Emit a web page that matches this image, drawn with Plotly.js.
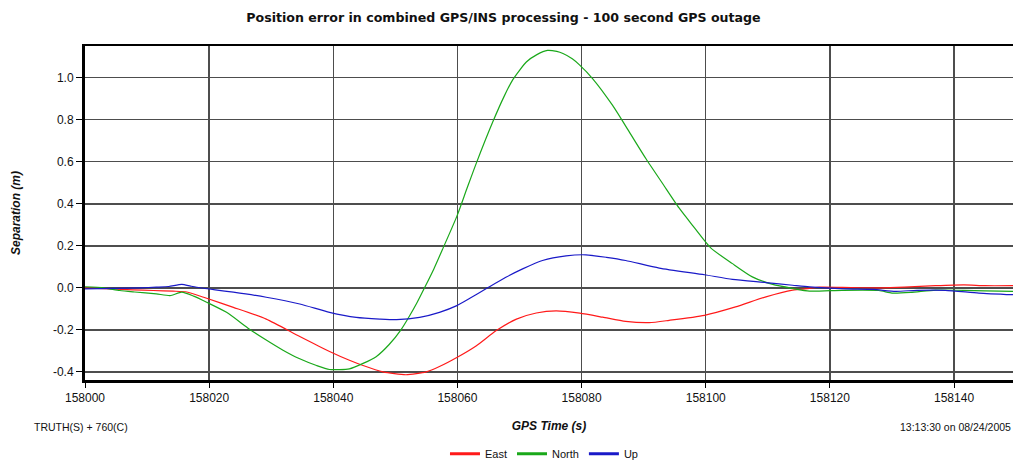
<!DOCTYPE html>
<html>
<head>
<meta charset="utf-8">
<script src="https://cdn.plot.ly/plotly-3.0.1.min.js"></script>
<style>
html,body{margin:0;padding:0;background:#fff;overflow:hidden;}
#chart{width:1013px;height:464px;}
</style>
</head>
<body>
<div id="chart"></div>
<script>
// ---- data (GPS time in seconds, separation in metres) ----
const eastT = [158000,158004,158007.7,158011,158014.2,158016.4,158019.6,158023.9,158029.2,158034.6,158039.4,158042.6,158044.8,158048,158051.7,158055,158057.1,158059.9,158063,158066.2,158069.5,158072.7,158075.9,158079.7,158083.4,158087.1,158090.9,158094.1,158099.8,158104.8,158109.7,158114,158116.7,158118.3,158122,158128,158132,158137,158141.6,158145,158149.5];
const eastV = [0,-0.005,-0.01,-0.013,-0.016,-0.02,-0.05,-0.093,-0.149,-0.232,-0.303,-0.345,-0.37,-0.4,-0.414,-0.4,-0.375,-0.332,-0.277,-0.205,-0.149,-0.12,-0.11,-0.121,-0.14,-0.16,-0.166,-0.155,-0.131,-0.091,-0.043,-0.011,-0.003,0.003,0.002,0.0,0.003,0.01,0.014,0.01,0.01];

const northT = [158000,158003,158005.6,158008,158011.5,158013.7,158015.6,158017.5,158019.6,158022.8,158026.5,158029,158031.9,158034.5,158037.3,158039.4,158042.6,158044.8,158046.9,158049,158050.9,158052.3,158053.5,158054.7,158056.2,158057.7,158059.9,158061.5,158063,158065.7,158067.5,158068.9,158071.1,158072.8,158074.5,158076,158077,158078.5,158079.7,158081.8,158085,158087.7,158090.4,158093.1,158095.7,158097.8,158100.8,158104.3,158107.5,158110.8,158114,158116.7,158122,158127.9,158130,158133,158137,158141.6,158145,158149.5];
const northV = [0.005,0.0,-0.013,-0.02,-0.029,-0.037,-0.021,-0.04,-0.069,-0.117,-0.197,-0.245,-0.297,-0.337,-0.37,-0.389,-0.386,-0.36,-0.328,-0.27,-0.2,-0.133,-0.07,0.0,0.09,0.19,0.34,0.47,0.59,0.79,0.91,0.99,1.075,1.11,1.13,1.125,1.115,1.09,1.06,0.995,0.868,0.741,0.613,0.494,0.38,0.3,0.19,0.115,0.052,0.016,-0.003,-0.016,-0.012,-0.013,-0.025,-0.022,-0.011,-0.012,-0.015,-0.017];

const upT = [158000,158005,158009,158011.5,158013.5,158015.6,158017,158018.5,158021,158023.9,158029.2,158034.6,158039.4,158043.7,158047.5,158050.2,158053.9,158057.1,158059.9,158062,158064.6,158067.8,158070.5,158073.7,158077.5,158080.7,158084,158087.1,158092.5,158099.8,158104.3,158109.7,158114,158116.7,158122.5,158127,158130.6,158134,158138.6,158144,158149.5];
const upV = [-0.005,-0.003,0.0,0.003,0.006,0.016,0.008,0.0,-0.01,-0.021,-0.045,-0.077,-0.117,-0.141,-0.149,-0.152,-0.141,-0.117,-0.085,-0.05,-0.005,0.05,0.09,0.13,0.152,0.157,0.145,0.13,0.094,0.062,0.04,0.025,0.012,0.004,-0.005,-0.008,-0.017,-0.012,-0.012,-0.025,-0.033];

const seriesNames = ["East","North","Up"];
const seriesColors = ["#ff1a1a","#1aa81a","#1a1ac8"];
const xTicks = [158000,158020,158040,158060,158080,158100,158120,158140];
const yTicks = [-0.4,-0.2,0.0,0.2,0.4,0.6,0.8,1.0];
const yTickText = ["-0.4","-0.2","0.0","0.2","0.4","0.6","0.8","1.0"];

const titleText = "Position error in combined GPS/INS processing - 100 second GPS outage";
const xTitle = "GPS Time (s)";
const yTitle = "Separation (m)";
const leftNote = "TRUTH(S) + 760(C)";
const rightNote = "13:13:30 on 08/24/2005";

const FONT = "Liberation Sans, Arial, sans-serif";

const xs = [eastT, northT, upT];
const ys = [eastV, northV, upV];
const traces = seriesNames.map((n,i)=>({
  x: xs[i], y: ys[i], name: n, type: "scatter", mode: "lines",
  legendgroup: n, showlegend: false,
  line: {color: seriesColors[i], width: 1.2, shape: "spline", smoothing: 0.6}
}));
// legend entries (thicker key lines, like the reference legend)
seriesNames.forEach((n,i)=>traces.push({
  x: [null], y: [null], name: n, type: "scatter", mode: "lines",
  legendgroup: n, showlegend: true, line: {color: seriesColors[i], width: 3}
}));

const layout = {
  width: 1013, height: 464,
  paper_bgcolor: "#ffffff", plot_bgcolor: "#ffffff",
  margin: {l: 85, r: 0, t: 46, b: 84, pad: 0},
  font: {family: FONT, size: 12, color: "#111"},
  title: {text: "<b>" + titleText + "</b>", font: {family: "DejaVu Sans, " + FONT, size: 12.6, color: "#111"},
          x: 0.497, xref: "container", xanchor: "center", y: 0.963, yref: "container", yanchor: "middle"},
  xaxis: {
    range: [158000, 158149.5], tickvals: xTicks, ticktext: xTicks.map(String),
    showgrid: true, gridcolor: "#4d4d4d", gridwidth: 1.5,
    showline: true, linecolor: "#000", linewidth: 2.5, mirror: true,
    ticks: "outside", ticklen: 5, tickcolor: "#000", tickwidth: 1,
    tickfont: {family: FONT, size: 12, color: "#111"},
    zeroline: false, automargin: false,
    title: {text: "<b><i>" + xTitle + "</i></b>", font: {family: FONT, size: 12, color: "#111"}, standoff: 18}
  },
  yaxis: {
    range: [-0.439, 1.151], tickvals: yTicks, ticktext: yTickText,
    showgrid: true, gridcolor: "#4d4d4d", gridwidth: 1.5,
    showline: true, linecolor: "#000", linewidth: 3, mirror: false,
    ticks: "outside", ticklen: 6, tickcolor: "#000", tickwidth: 1,
    tickfont: {family: FONT, size: 12, color: "#111"},
    zeroline: false, automargin: false,
    title: {text: "<b><i>" + yTitle + "</i></b>", font: {family: FONT, size: 12, color: "#111"}, standoff: 30}
  },
  showlegend: true,
  legend: {orientation: "h", x: 0.537, xref: "container", xanchor: "center",
           y: 0.022, yref: "container", yanchor: "middle",
           font: {family: FONT, size: 11, color: "#111"}, bgcolor: "rgba(0,0,0,0)"},
  annotations: [
    {text: leftNote, xref: "paper", yref: "paper", x: -0.0571, y: -0.14, xanchor: "left", yanchor: "middle",
     showarrow: false, font: {family: FONT, size: 10.5, color: "#111"}},
    {text: rightNote, xref: "paper", yref: "paper", x: 1.0, y: -0.14, xanchor: "right", yanchor: "middle",
     showarrow: false, font: {family: FONT, size: 10.5, color: "#111"}}
  ]
};

Plotly.newPlot("chart", traces, layout, {displayModeBar: false, staticPlot: true});
</script>
</body>
</html>
